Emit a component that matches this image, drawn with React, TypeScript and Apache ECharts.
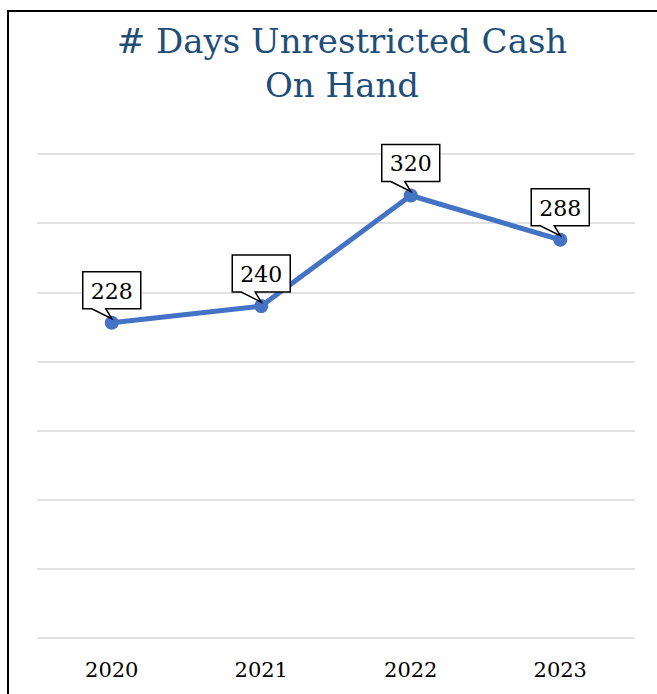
import React, { useEffect, useRef } from "react";
import * as echarts from "echarts";

const TITLE = "# Days Unrestricted Cash\nOn Hand";
const years = ["2020", "2021", "2022", "2023"];
const daysCash = [228, 240, 320, 288];
const yMin = 0;
const yMax = 350;
const yInterval = 50;

const SERIF = '"DejaVu Serif", "Liberation Serif", serif';

export default function App() {
  const ref = useRef<HTMLDivElement>(null);
  useEffect(() => {
    if (!ref.current) return;
    const chart = echarts.init(ref.current, null, { renderer: "svg" });
    chart.setOption({
      animation: false,
      backgroundColor: "#ffffff",
      graphic: [
        {
          type: "rect",
          shape: { x: 8, y: 11, width: 800, height: 800 },
          style: { fill: "none", stroke: "#000", lineWidth: 2 },
          silent: true,
        },
        {
          type: "text",
          x: 342,
          y: 19,
          silent: true,
          style: {
            text: TITLE,
            align: "center",
            verticalAlign: "top",
            fontFamily: SERIF,
            fontSize: 34,
            fontWeight: "normal",
            lineHeight: 44,
            fill: "#1F4E79",
          },
        },
      ],
      grid: { left: 37, width: 598, top: 154, height: 484 },
      xAxis: {
        type: "category",
        data: years,
        boundaryGap: true,
        axisLine: { show: false },
        axisTick: { show: false },
        axisLabel: {
          margin: 21,
          fontFamily: SERIF,
          fontSize: 21,
          color: "#000",
        },
      },
      yAxis: {
        type: "value",
        min: yMin,
        max: yMax,
        interval: yInterval,
        axisLabel: { show: false },
        axisLine: { show: false },
        axisTick: { show: false },
        splitLine: { show: true, lineStyle: { color: "#D9D9D9", width: 1.5 } },
      },
      series: [
        {
          type: "line",
          data: daysCash,
          symbol: "circle",
          symbolSize: 14,
          lineStyle: { color: "#4472C4", width: 5 },
          itemStyle: { color: "#4472C4" },
          z: 2,
        },
        {
          type: "custom",
          coordinateSystem: "cartesian2d",
          data: daysCash.map((v, i) => [i, v]),
          z: 5,
          renderItem: (params: any, api: any) => {
            const v = api.value(1);
            const p = api.coord([api.value(0), v]);
            const cx = p[0];
            const py = p[1];
            const bottom = py - 14;
            const top = bottom - 37;
            const hw = 29;
            return {
              type: "group",
              children: [
                {
                  type: "polygon",
                  shape: {
                    points: [
                      [cx - hw, top],
                      [cx + hw, top],
                      [cx + hw, bottom],
                      [cx - 6, bottom],
                      [cx, py - 4],
                      [cx - 20, bottom],
                      [cx - hw, bottom],
                    ],
                  },
                  style: { fill: "#ffffff", stroke: "#000000", lineWidth: 1.5 },
                },
                {
                  type: "text",
                  style: {
                    text: String(v),
                    x: cx,
                    y: (top + bottom) / 2 + 1,
                    align: "center",
                    verticalAlign: "middle",
                    font: '22px "DejaVu Serif", serif',
                    fill: "#000",
                  },
                },
              ],
            };
          },
        },
      ],
    });
    return () => chart.dispose();
  }, []);
  return (
    <div
      ref={ref}
      style={{ position: "absolute", left: 0, top: 0, width: 657, height: 694 }}
    />
  );
}
